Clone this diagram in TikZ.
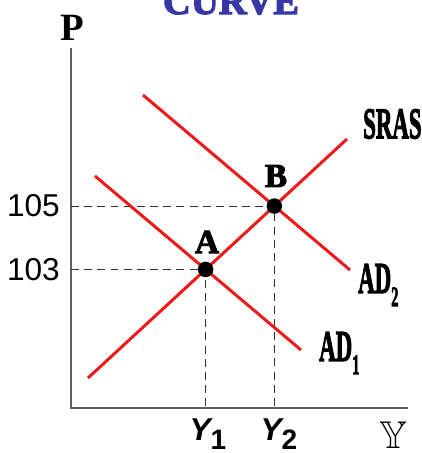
\documentclass[tikz,border=0pt]{standalone}
\usepackage{amssymb}
\usepackage{fontspec}
\newfontfamily\arialfont{Liberation Sans}
\newfontfamily\timesfont{Liberation Serif}
\newfontfamily\heavyfont[UprightFont={* Bold}, UprightFeatures={FakeBold=3}]{Liberation Serif}
\usetikzlibrary{positioning, intersections}
\definecolor{curvered}{RGB}{240,25,25}
\definecolor{titleblue}{RGB}{55,55,165}
\newcommand{\narrow}[1]{\scalebox{0.52}[1]{#1}}
\newcommand{\lowsub}[1]{\raisebox{-0.3em}{\fontsize{16}{16}\selectfont #1}}

\begin{document}
\begin{tikzpicture}[
    x=0.02cm, y=-0.02cm,
    axis/.style={draw=gray!75!black, line width=0.8pt},
    curve/.style={draw=curvered, line width=1.7pt},
    guide/.style={draw=black!80, line width=0.5pt, dash pattern=on 4.5pt off 3pt},
    dot/.style={circle, fill=black, inner sep=0pt, minimum size=0.31cm},
    ticklbl/.style={font=\arialfont\fontsize{18}{18}\selectfont, anchor=east},
    qlbl/.style={font=\arialfont\bfseries\fontsize{18}{18}\selectfont},
    curvelbl/.style={font=\heavyfont\fontsize{25}{25}\selectfont},
    ptlbl/.style={font=\heavyfont\fontsize{19}{19}\selectfont}
]
    \useasboundingbox (0,0) rectangle (422,453);
    \clip (0,0) rectangle (422,453);

    % === Title (cut at the top) ===
    \node[font=\heavyfont\fontsize{22}{22}\selectfont, text=titleblue, anchor=base] (title) at (231,14) {CURVE};

    % === Axes ===
    \coordinate (origin) at (71,408);
    \coordinate (ytop) at (71,48);
    \coordinate (xend) at (408,408);
    \draw[axis] (ytop) -- (origin) -- (xend);
    \node[font=\timesfont\bfseries\fontsize{22}{22}\selectfont] (plbl) at (72,28) {P};
    \node[font=\fontsize{22}{22}\selectfont] (ylbl) at (393,435) {$\mathbb{Y}$};

    % === Curves ===
    \coordinate (srasL) at (88,378);
    \coordinate (srasR) at (347,139);
    \coordinate (adoneL) at (95,176);
    \coordinate (adoneR) at (301,350);
    \coordinate (adtwoL) at (143,95);
    \coordinate (adtwoR) at (350,270);
    \path[name path=sras] (srasL) -- (srasR);
    \path[name path=adone] (adoneL) -- (adoneR);
    \path[name path=adtwo] (adtwoL) -- (adtwoR);
    \path[name intersections={of=sras and adone, by=ptA}];
    \path[name intersections={of=sras and adtwo, by=ptB}];

    % Guides to the axes
    \draw[guide] (ptA -| origin) -- (ptA) -- (ptA |- origin);
    \draw[guide] (ptB -| origin) -- (ptB) -- (ptB |- origin);

    \draw[curve] (srasL) -- (srasR);
    \draw[curve] (adoneL) -- (adoneR);
    \draw[curve] (adtwoL) -- (adtwoR);

    \node[dot] (dotA) at (ptA) {};
    \node[dot] (dotB) at (ptB) {};
    \node[ptlbl] (lblA) at (207,242) {A};
    \node[ptlbl] (lblB) at (276,176) {B};

    % Labels
    \node[curvelbl, anchor=west] (srastxt) at (357,124) {\narrow{SRAS}};
    \node[curvelbl, anchor=west] (adtwotxt) at (352,285) {\narrow{AD\lowsub{2}}};
    \node[curvelbl, anchor=west] (adonetxt) at (313,353) {\narrow{AD\lowsub{1}}};

    \node[ticklbl] (p105) at ([xshift=-0.1cm]ptB -| origin) {105};
    \node[ticklbl] (p103) at ([xshift=-0.1cm]ptA -| origin) {103};
    \node[qlbl] (yone) at (208,434) {\itshape Y\upshape\lowsub{1}};
    \node[qlbl] (ytwo) at (279,434) {\itshape Y\upshape\lowsub{2}};
\end{tikzpicture}
\end{document}
